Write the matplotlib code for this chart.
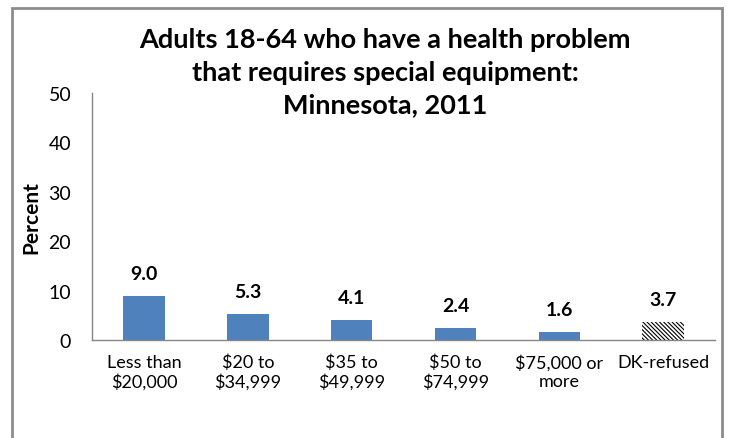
import matplotlib
matplotlib.use("Agg")
import matplotlib.pyplot as plt
from matplotlib.patches import Rectangle

categories = ["Less than\n$20,000", "$20 to\n$34,999", "$35 to\n$49,999",
              "$50 to\n$74,999", "$75,000 or\nmore", "DK-refused"]
values = [9.0, 5.3, 4.1, 2.4, 1.6, 3.7]
value_labels = ["9.0", "5.3", "4.1", "2.4", "1.6", "3.7"]
yticks = [0, 10, 20, 30, 40, 50]
title = "Adults 18-64 who have a health problem\nthat requires special equipment:\nMinnesota, 2011"

plt.rcParams['font.family'] = ['Lato', 'DejaVu Sans']
plt.rcParams['hatch.linewidth'] = 0.8

fig = plt.figure(figsize=(7.32, 4.39), dpi=100)
ax = fig.add_axes([0.1257, 0.2232, 0.977 - 0.1257, 0.786 - 0.2232])

x = list(range(len(categories)))
ax.bar(x[:-1], values[:-1], width=0.4, color="#4F81BD", zorder=2)
ax.bar(x[-1:], values[-1:], width=0.4, color="white", edgecolor="black",
       hatch="\\" * 8, linewidth=0, zorder=2)

for xi, v, lab in zip(x, values, value_labels):
    ax.annotate(lab, (xi, v), xytext=(0, 10), textcoords="offset points",
                ha="center", va="bottom", fontsize=14, fontweight="bold")

ax.set_xlim(-0.5, len(categories) - 0.5)
ax.set_ylim(0, 50)
ax.set_yticks(yticks)
ax.set_yticklabels([str(t) for t in yticks], fontsize=14)
ax.set_xticks(x)
ax.set_xticklabels(categories, fontsize=13, linespacing=1.2)
ax.tick_params(axis="y", length=0, pad=15)
ax.tick_params(axis="x", length=0, pad=10)
for s in ["top", "right"]:
    ax.spines[s].set_visible(False)
for s in ["left", "bottom"]:
    ax.spines[s].set_color("#868686")
    ax.spines[s].set_linewidth(1.0)

ax.set_ylabel("Percent", fontsize=15, fontweight="bold")
ax.yaxis.set_label_coords(-0.082, 0.5)

fig.text(0.526, 0.834, title, ha="center", va="center", fontsize=19.5,
         fontweight="bold", linespacing=1.42)

frame = Rectangle((12 / 732, -0.05), (722 - 12) / 732, 1.05 - 9 / 439,
                  transform=fig.transFigure, fill=False, edgecolor="#8C8C8C",
                  linewidth=2.0)
fig.patches.append(frame)

fig.savefig("out.png", dpi=100)
